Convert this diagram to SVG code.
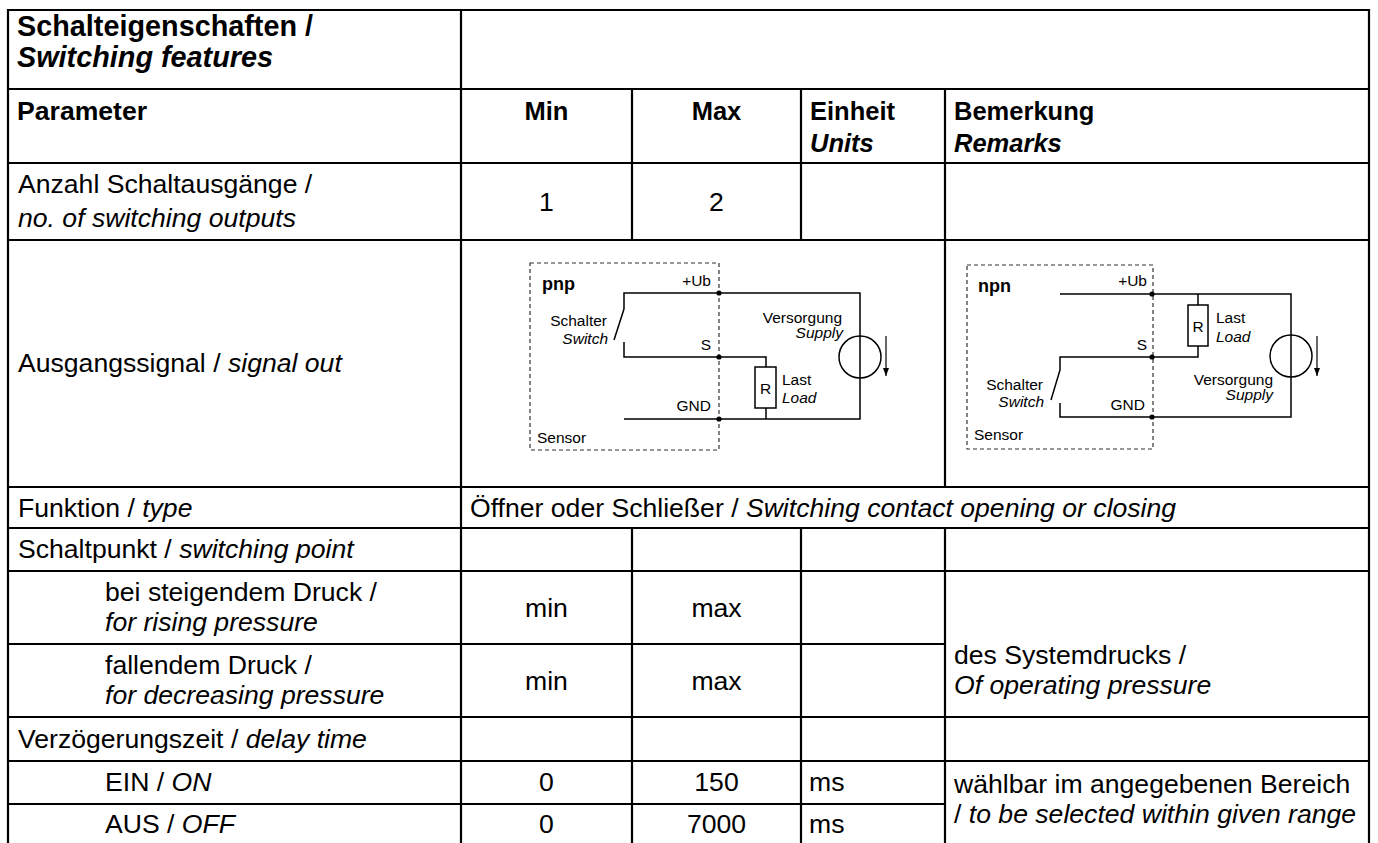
<svg xmlns="http://www.w3.org/2000/svg" width="1378" height="843" viewBox="0 0 1378 843">
<defs>
<style>
.t{font-family:"Liberation Sans",Arial,sans-serif;font-size:26.6px;fill:#000}
.h{font-family:"Liberation Sans",Arial,sans-serif;font-size:25.5px;font-weight:bold;fill:#000}
.ti{font-family:"Liberation Sans",Arial,sans-serif;font-size:28.8px;font-weight:bold;fill:#000}
.i{font-style:italic}
.c{text-anchor:middle}
.grid line{stroke:#000;stroke-width:2.2}
.w{fill:none;stroke:#000;stroke-width:1.5}
.box{fill:none;stroke:#333;stroke-width:1.2;stroke-dasharray:4 3}
.s{font-family:"Liberation Sans",Arial,sans-serif;font-size:15.5px;fill:#000}
.b{font-family:"Liberation Sans",Arial,sans-serif;font-size:18px;font-weight:bold;fill:#000}
.e{text-anchor:end}
.dot{fill:#000}
.ar{stroke:#000;stroke-width:1.2}
</style>
<marker id="arr" viewBox="0 0 8 6" refX="8" refY="3" markerWidth="8" markerHeight="6" markerUnits="userSpaceOnUse" orient="auto">
<path d="M0,0 L8,3 L0,6 Z" fill="#000"/>
</marker>
</defs>
<rect width="1378" height="843" fill="#fff"/>
<g id="grid" class="grid">
<line x1="7" y1="10" x2="1370" y2="10"/>
<line x1="7" y1="89" x2="1370" y2="89"/>
<line x1="7" y1="163" x2="1370" y2="163"/>
<line x1="7" y1="240" x2="1370" y2="240"/>
<line x1="7" y1="487" x2="1370" y2="487"/>
<line x1="7" y1="528" x2="1370" y2="528"/>
<line x1="7" y1="571" x2="1370" y2="571"/>
<line x1="7" y1="644" x2="945" y2="644"/>
<line x1="7" y1="717" x2="1370" y2="717"/>
<line x1="7" y1="761" x2="1370" y2="761"/>
<line x1="7" y1="804" x2="945" y2="804"/>
<line x1="8" y1="9" x2="8" y2="843"/>
<line x1="461" y1="9" x2="461" y2="843"/>
<line x1="1369" y1="9" x2="1369" y2="843"/>
<line x1="632" y1="89" x2="632" y2="240"/>
<line x1="632" y1="528" x2="632" y2="843"/>
<line x1="801" y1="89" x2="801" y2="240"/>
<line x1="801" y1="528" x2="801" y2="843"/>
<line x1="945" y1="89" x2="945" y2="487"/>
<line x1="945" y1="528" x2="945" y2="843"/>
</g>
<g id="title">
<text class="ti" x="17" y="36">Schalteigenschaften /</text>
<text class="ti i" x="17" y="67">Switching features</text>
</g>
<g id="header">
<text class="t" x="17" y="120" font-weight="bold">Parameter</text>
<text class="h c" x="546.5" y="120">Min</text>
<text class="h c" x="716.5" y="120">Max</text>
<text class="h" x="810" y="120">Einheit</text>
<text class="h i" x="810" y="152">Units</text>
<text class="h" x="954" y="120">Bemerkung</text>
<text class="h i" x="954" y="152">Remarks</text>
</g>
<g id="row-anzahl">
<text class="t" x="18" y="193">Anzahl Schaltausgänge /</text>
<text class="t i" x="18" y="227">no. of switching outputs</text>
<text class="t c" x="546.5" y="211">1</text>
<text class="t c" x="716.5" y="211">2</text>
</g>
<g id="row-ausgang">
<text class="t" x="18" y="372">Ausgangssignal / <tspan class="i">signal out</tspan></text>
</g>
<g id="pnp-circuit">
<rect class="box" x="530" y="263" width="189" height="187"/>
<text class="b" x="542" y="290">pnp</text>
<text class="s e" x="711" y="286">+Ub</text>
<text class="s e" x="711" y="350">S</text>
<text class="s e" x="711" y="411">GND</text>
<text class="s" x="537" y="443">Sensor</text>
<text class="s e" x="607" y="326">Schalter</text>
<text class="s e i" x="608" y="344">Switch</text>
<text class="s e" x="842" y="323">Versorgung</text>
<text class="s e i" x="843" y="338">Supply</text>
<text class="s" x="782" y="385">Last</text>
<text class="s i" x="782" y="403">Load</text>
<path class="w" d="M624,309 V293 H860 V419 H624"/>
<path class="w" d="M624,309 L614,340"/>
<path class="w" d="M624,342 V357 H766 V367"/>
<path class="w" d="M766,408 V419"/>
<rect class="w" x="755" y="367" width="21" height="41"/>
<text class="s c" x="765.5" y="394">R</text>
<circle class="w" cx="860" cy="357" r="21" fill="#fff"/>
<line class="ar" x1="886" y1="336" x2="886" y2="376" marker-end="url(#arr)"/>
<circle class="dot" cx="719" cy="293" r="2.6"/>
<circle class="dot" cx="719" cy="357" r="2.6"/>
<circle class="dot" cx="719" cy="419" r="2.6"/>
</g>
<g id="npn-circuit">
<rect class="box" x="967" y="265" width="186" height="184"/>
<text class="b" x="978" y="292">npn</text>
<text class="s e" x="1147" y="286">+Ub</text>
<text class="s e" x="1147" y="350">S</text>
<text class="s e" x="1145" y="410">GND</text>
<text class="s" x="974" y="440">Sensor</text>
<text class="s e" x="1043" y="390">Schalter</text>
<text class="s e i" x="1044" y="407">Switch</text>
<text class="s e" x="1273" y="385">Versorgung</text>
<text class="s e i" x="1273" y="400">Supply</text>
<text class="s" x="1216" y="323">Last</text>
<text class="s i" x="1216" y="342">Load</text>
<path class="w" d="M1060,294 H1291 V417 H1060 V403"/>
<path class="w" d="M1198,294 V305"/>
<rect class="w" x="1188" y="305" width="20" height="41"/>
<text class="s c" x="1198" y="332">R</text>
<path class="w" d="M1198,346 V357 H1060 V370 L1051,400"/>
<circle class="w" cx="1291" cy="356" r="21" fill="#fff"/>
<line class="ar" x1="1317" y1="336" x2="1317" y2="376" marker-end="url(#arr)"/>
<circle class="dot" cx="1152" cy="294" r="2.6"/>
<circle class="dot" cx="1152" cy="357" r="2.6"/>
<circle class="dot" cx="1152" cy="417" r="2.6"/>
</g>
<g id="row-funktion">
<text class="t" x="18" y="517">Funktion / <tspan class="i">type</tspan></text>
<text class="t" x="470" y="517">Öffner oder Schließer / <tspan class="i">Switching contact opening or closing</tspan></text>
</g>
<g id="row-schaltpunkt">
<text class="t" x="18" y="558">Schaltpunkt / <tspan class="i">switching point</tspan></text>
</g>
<g id="row-steigend">
<text class="t" x="105" y="601">bei steigendem Druck /</text>
<text class="t i" x="105" y="631">for rising pressure</text>
<text class="t c" x="546.5" y="617">min</text>
<text class="t c" x="716.5" y="617">max</text>
</g>
<g id="row-fallend">
<text class="t" x="105" y="674">fallendem Druck /</text>
<text class="t i" x="105" y="704">for decreasing pressure</text>
<text class="t c" x="546.5" y="690">min</text>
<text class="t c" x="716.5" y="690">max</text>
</g>
<g id="remark-druck">
<text class="t" x="954" y="664">des Systemdrucks /</text>
<text class="t i" x="954" y="694">Of operating pressure</text>
</g>
<g id="row-verzoegerung">
<text class="t" x="18" y="748">Verzögerungszeit / <tspan class="i">delay time</tspan></text>
</g>
<g id="row-ein">
<text class="t" x="105" y="791">EIN / <tspan class="i">ON</tspan></text>
<text class="t c" x="546.5" y="791">0</text>
<text class="t c" x="716.5" y="791">150</text>
<text class="t" x="809" y="791">ms</text>
</g>
<g id="row-aus">
<text class="t" x="105" y="833">AUS / <tspan class="i">OFF</tspan></text>
<text class="t c" x="546.5" y="833">0</text>
<text class="t c" x="716.5" y="833">7000</text>
<text class="t" x="809" y="833">ms</text>
</g>
<g id="remark-delay">
<text class="t" x="954" y="793">wählbar im angegebenen Bereich</text>
<text class="t" x="954" y="823">/ <tspan class="i">to be selected within given range</tspan></text>
</g>
</svg>
